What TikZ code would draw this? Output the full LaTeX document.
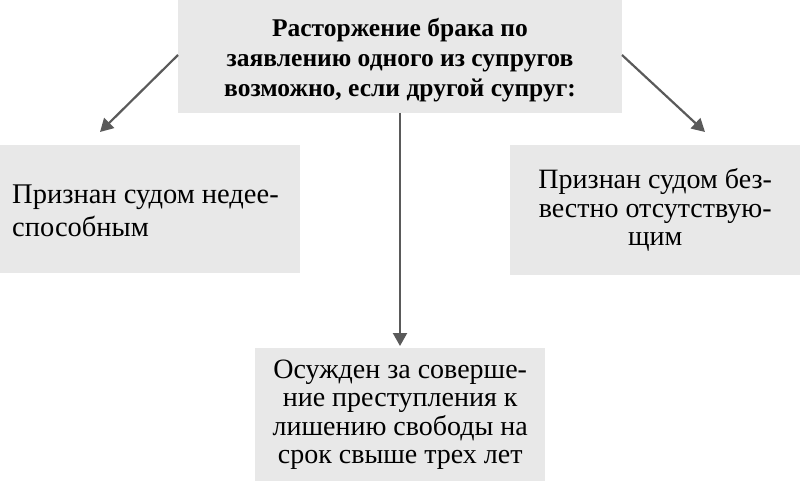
\documentclass[tikz,border=0pt]{standalone}
\usepackage{fontspec}
\setmainfont{Liberation Serif}
\usetikzlibrary{arrows.meta}
\definecolor{boxgray}{HTML}{E8E8E8}
\definecolor{arrgray}{HTML}{5A5A5A}
\begin{document}
\begin{tikzpicture}[x=1pt,y=-1pt,
  box/.style={fill=boxgray,draw=none,inner sep=0pt,font=\fontsize{28}{28.5}\selectfont},
  conn/.style={draw=arrgray,line width=2.2pt,-{Triangle[length=13pt,width=14pt]}}]
\useasboundingbox (0,0) rectangle (800,481);
\node[box,minimum width=444pt,minimum height=113pt,anchor=north west] (top) at (178,0) {};
\node[anchor=center,align=center,inner sep=0pt,font=\fontsize{25.5}{30}\bfseries\selectfont] (tt) at (400,60)
 {Расторжение брака по\\заявлению одного из супругов\\возможно, если другой супруг:};
\node[box,minimum width=300pt,minimum height=128pt,anchor=north west] (left) at (0,145) {};
\node[anchor=west,align=left,font=\fontsize{28.5}{33}\selectfont,inner sep=0pt] (lt) at (12,211) {Признан судом недее-\\способным};
\node[box,minimum width=290pt,minimum height=130pt,anchor=north west,align=center] (right) at (510,145)
 {Признан судом без-\\вестно отсутствую-\\щим};
\node[box,minimum width=290pt,minimum height=133pt,anchor=north west,align=center] (bot) at (255,348)
 {Осужден за соверше-\\ние преступления к\\лишению свободы на\\срок свыше трех лет};
\coordinate (tl) at (178,55);
\coordinate (tr) at (622,55);
\coordinate (tb) at (400,113);
\coordinate (lend) at (100,132);
\coordinate (rend) at (705,132);
\coordinate (bend) at (400,346);
\draw[conn] (tl) -- (lend);
\draw[conn] (tr) -- (rend);
\draw[conn] (tb) -- (bend);
\end{tikzpicture}
\end{document}
